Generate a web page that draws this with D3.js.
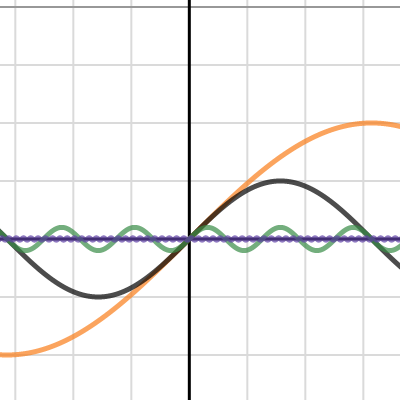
<!DOCTYPE html>
<html>
<head>
<meta charset="utf-8">
<script src="https://cdn.jsdelivr.net/npm/d3@7"></script>
<style>
  body { margin: 0; background: #fff; }
  svg { display: block; }
</style>
</head>
<body>
<svg></svg>
<script>
var width = 400;
var height = 400;

// curves y = sin(k x) / k
var frequencies = [1, 2, 10, 100];
var amplitudes = [1, 0.5, 0.1, 0.01];
var colors = ["#fa7e19", "#000000", "#388c46", "#6042a6"];

// grid lines (minor every 0.5, major every 2)
var minorX = [-1.5, -1, -0.5, 0.5, 1, 1.5];
var minorY = [-1, -0.5, 0.5, 1, 1.5];
var majorY = [2];

var xScale = d3.scaleLinear()
    .domain([-1.632, 1.816])
    .range([0, width]);

var yScale = d3.scaleLinear()
    .domain([-1.388, 2.06])
    .range([height, 0]);

var svg = d3.select("svg")
    .attr("width", width)
    .attr("height", height);

svg.selectAll(".minor-x")
    .data(minorX)
    .enter()
    .append("line")
    .attr("x1", d => xScale(d))
    .attr("x2", d => xScale(d))
    .attr("y1", 0)
    .attr("y2", height)
    .attr("stroke", "#dadada")
    .attr("stroke-width", 2);

svg.selectAll(".minor-y")
    .data(minorY)
    .enter()
    .append("line")
    .attr("x1", 0)
    .attr("x2", width)
    .attr("y1", d => yScale(d))
    .attr("y2", d => yScale(d))
    .attr("stroke", "#dadada")
    .attr("stroke-width", 2);

svg.selectAll(".major-y")
    .data(majorY)
    .enter()
    .append("line")
    .attr("x1", 0)
    .attr("x2", width)
    .attr("y1", d => yScale(d))
    .attr("y2", d => yScale(d))
    .attr("stroke", "#989898")
    .attr("stroke-width", 2);

// axes
svg.append("line")
    .attr("x1", 0)
    .attr("x2", width)
    .attr("y1", yScale(0))
    .attr("y2", yScale(0))
    .attr("stroke", "#000")
    .attr("stroke-width", 3);

svg.append("line")
    .attr("x1", xScale(0))
    .attr("x2", xScale(0))
    .attr("y1", 0)
    .attr("y2", height)
    .attr("stroke", "#000")
    .attr("stroke-width", 3);

var xs = d3.range(xScale.domain()[0] - 0.05, xScale.domain()[1] + 0.05, 0.001);

var line = d3.line()
    .x(d => xScale(d[0]))
    .y(d => yScale(d[1]));

frequencies.forEach((k, i) => {
    var pts = xs.map(x => [x, amplitudes[i] * Math.sin(k * x)]);
    svg.append("path")
        .datum(pts)
        .attr("d", line)
        .attr("fill", "none")
        .attr("stroke", colors[i])
        .attr("stroke-opacity", 0.7)
        .attr("stroke-width", 5)
        .attr("stroke-linejoin", "round")
        .attr("stroke-linecap", "round");
});
</script>
</body>
</html>
